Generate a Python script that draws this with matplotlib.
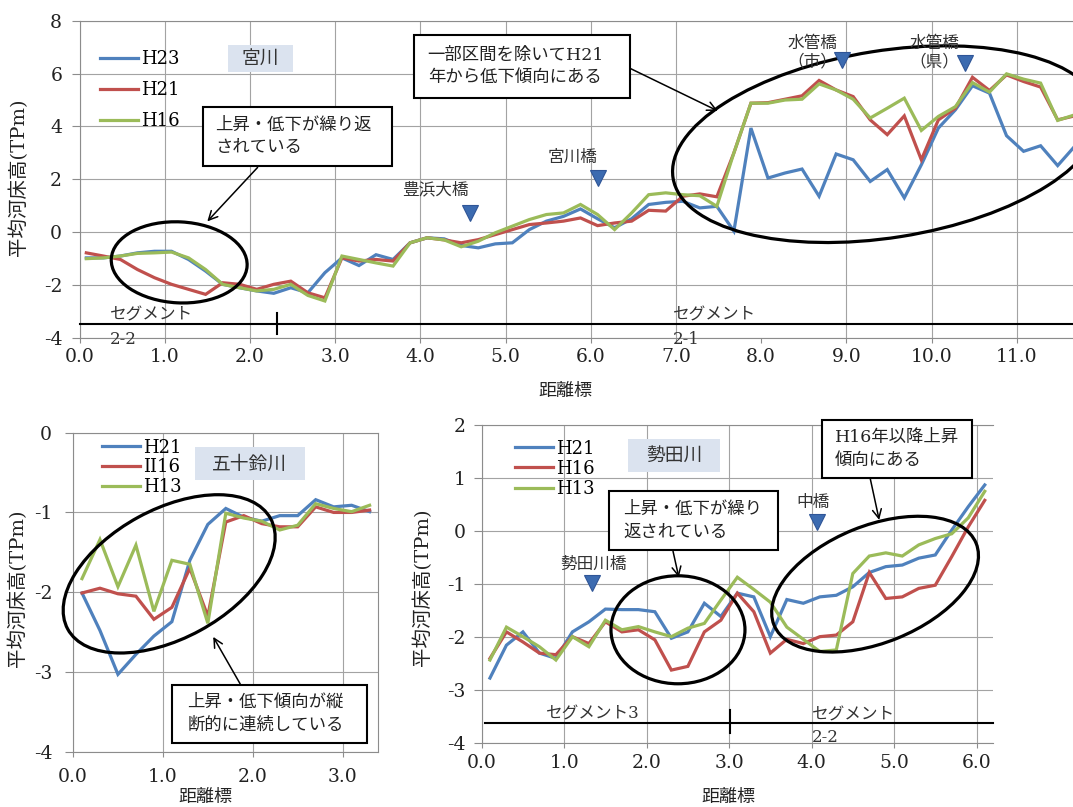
import matplotlib
matplotlib.use('Agg')
import matplotlib.pyplot as plt
import matplotlib.transforms as mtrans
from matplotlib.patches import Ellipse, Rectangle

# 宮川 (H23 / H21 / H16)
miya_km = [0.08, 0.28, 0.48, 0.68, 0.88, 1.08, 1.28, 1.48, 1.68, 1.88,
           2.08, 2.28, 2.48, 2.68, 2.88, 3.08, 3.28, 3.48, 3.68, 3.88,
           4.08, 4.28, 4.48, 4.68, 4.88, 5.08, 5.28, 5.48, 5.68, 5.88,
           6.08, 6.28, 6.48, 6.68, 6.88, 7.08, 7.28, 7.48, 7.68, 7.88,
           8.08, 8.28, 8.48, 8.68, 8.88, 9.08, 9.28, 9.48, 9.68, 9.88,
           10.08, 10.28, 10.48, 10.68, 10.88, 11.08, 11.28, 11.48, 11.68]
miya_h23 = [-0.97, -0.97, -0.90, -0.78, -0.72, -0.72, -1.03, -1.47, -1.97, -2.10,
            -2.22, -2.31, -2.10, -2.29, -1.53, -0.97, -1.26, -0.85, -1.03, -0.40,
            -0.21, -0.25, -0.50, -0.59, -0.44, -0.40, 0.10, 0.42, 0.60, 0.88,
            0.51, 0.17, 0.51, 1.05, 1.13, 1.17, 0.92, 0.98, 0.04, 3.94,
            2.05, 2.24, 2.39, 1.36, 2.96, 2.74, 1.92, 2.37, 1.30, 2.55,
            3.94, 4.63, 5.54, 5.26, 3.65, 3.06, 3.27, 2.52, 3.25]
miya_h21 = [-0.78, -0.90, -1.03, -1.41, -1.72, -1.97, -2.16, -2.35, -1.91, -1.97,
            -2.16, -1.97, -1.85, -2.29, -2.48, -0.97, -1.09, -1.03, -1.09, -0.40,
            -0.21, -0.29, -0.40, -0.28, -0.09, 0.10, 0.29, 0.35, 0.42, 0.54,
            0.25, 0.35, 0.42, 0.83, 0.80, 1.36, 1.45, 1.34, 3.00, 4.88,
            4.90, 5.03, 5.16, 5.74, 5.38, 5.13, 4.25, 3.69, 4.40, 2.74,
            4.25, 4.69, 5.86, 5.36, 5.95, 5.70, 5.49, 4.25, 4.40]
miya_h16 = [-1.00, -0.97, -0.90, -0.80, -0.78, -0.75, -0.97, -1.41, -1.97, -2.10,
            -2.22, -2.16, -1.97, -2.39, -2.60, -0.90, -1.03, -1.16, -1.28, -0.40,
            -0.21, -0.29, -0.55, -0.34, -0.02, 0.23, 0.48, 0.67, 0.73, 1.05,
            0.67, 0.10, 0.73, 1.42, 1.49, 1.42, 1.38, 0.98, 3.00, 4.88,
            4.88, 5.00, 5.03, 5.61, 5.38, 5.03, 4.32, 4.69, 5.07, 3.85,
            4.38, 4.75, 5.66, 5.30, 5.99, 5.79, 5.64, 4.23, 4.44]

# 五十鈴川 (H21 / H16 / H13)
isuzu_km = [0.1, 0.3, 0.5, 0.7, 0.9, 1.1, 1.3, 1.5, 1.7, 1.9, 2.1, 2.3, 2.5, 2.7, 2.9, 3.1, 3.3]
isuzu_h21 = [-2.01, -2.48, -3.03, -2.78, -2.55, -2.37, -1.60, -1.15, -0.95, -1.06,
             -1.11, -1.04, -1.04, -0.84, -0.93, -0.91, -0.99]
isuzu_h16 = [-2.01, -1.95, -2.02, -2.05, -2.34, -2.19, -1.70, -2.30, -1.12, -1.04,
             -1.14, -1.18, -1.18, -0.93, -1.00, -1.00, -0.97]
isuzu_h13 = [-1.83, -1.34, -1.93, -1.41, -2.24, -1.60, -1.65, -2.39, -1.01, -1.07,
             -1.11, -1.22, -1.16, -0.89, -0.95, -0.99, -0.91]

# 勢田川 (H21 / H16 / H13)
seta_km = [0.1, 0.3, 0.5, 0.7, 0.9, 1.1, 1.3, 1.5, 1.7, 1.9, 2.1, 2.3, 2.5, 2.7, 2.9, 3.1,
           3.3, 3.5, 3.7, 3.9, 4.1, 4.3, 4.5, 4.7, 4.9, 5.1, 5.3, 5.5, 5.7, 5.9, 6.1]
seta_h21 = [-2.77, -2.15, -1.90, -2.30, -2.40, -1.90, -1.71, -1.47, -1.48, -1.48,
            -1.52, -2.02, -1.90, -1.36, -1.61, -1.17, -1.24, -1.99, -1.29, -1.36,
            -1.24, -1.21, -1.05, -0.78, -0.67, -0.64, -0.51, -0.45, 0.02, 0.46, 0.87]
seta_h16 = [-2.40, -1.90, -2.09, -2.30, -2.33, -1.99, -2.12, -1.71, -1.90, -1.86,
            -2.05, -2.62, -2.55, -1.90, -1.68, -1.17, -1.52, -2.30, -2.04, -2.12,
            -1.99, -1.96, -1.71, -0.78, -1.27, -1.24, -1.08, -1.02, -0.48, 0.08, 0.58]
seta_h13 = [-2.43, -1.81, -1.99, -2.18, -2.43, -1.99, -2.18, -1.68, -1.86, -1.80,
            -1.90, -1.99, -1.83, -1.74, -1.30, -0.87, -1.10, -1.34, -1.81, -2.04,
            -2.27, -2.24, -0.80, -0.47, -0.41, -0.47, -0.26, -0.14, -0.05, 0.25, 0.75]

plt.rcParams['font.family'] = ['DejaVu Serif', 'Noto Sans CJK JP']
plt.rcParams['axes.unicode_minus'] = False

BLUE = '#4F81BD'
RED = '#C0504D'
GREEN = '#9BBB59'
GRID = '#a3a3a3'
MARK = '#3C6BB0'

fig = plt.figure(figsize=(10.73, 8.07), dpi=100)


def px_trans(ax, x, y):
    # pixel-sized shapes anchored on a data point
    return (mtrans.Affine2D().scale(0.01) + fig.dpi_scale_trans
            + mtrans.ScaledTranslation(x, y, ax.transData))


def setup(ax, xlim, ylim, xticks, yticks, ypad, xpad):
    ax.set_xlim(*xlim)
    ax.set_ylim(*ylim)
    ax.set_xticks(xticks)
    ax.set_xticklabels(['%.1f' % t for t in xticks])
    ax.set_yticks(yticks)
    ax.set_yticklabels(['%d' % t for t in yticks])
    ax.grid(color=GRID, lw=0.8)
    ax.set_axisbelow(True)
    ax.tick_params(axis='y', direction='out', length=6, width=0.8, color='#8c8c8c',
                   labelsize=13.5, pad=ypad, labelcolor='#222222')
    ax.tick_params(axis='x', direction='out', length=3.5, width=0.8, color='#8c8c8c',
                   labelsize=13.5, pad=xpad, labelcolor='#222222')
    for s in ax.spines.values():
        s.set_color('#8c8c8c')
        s.set_linewidth(0.8)


def series(ax, km, vals, labels, anchor, spacing):
    for v, c, lab in zip(vals, [BLUE, RED, GREEN], labels):
        ax.plot(km, v, color=c, lw=2.3, label=lab, solid_joinstyle='miter')
    ax.legend(loc='upper left', bbox_to_anchor=anchor, frameon=False, borderpad=0,
              borderaxespad=0, handlelength=2.1, handletextpad=0.2,
              labelspacing=spacing, prop={'family': 'DejaVu Serif', 'size': 13})


def ring(ax, x, y, w, h, angle=0):
    ax.add_patch(Ellipse((0, 0), w, h, angle=angle, transform=px_trans(ax, x, y),
                         fill=False, ec='black', lw=2.3, clip_on=False, zorder=5))


def tag(ax, x, y, w, h, text):
    ax.add_patch(Rectangle((-w / 2, -h / 2), w, h, transform=px_trans(ax, x, y),
                           fc='#dbe3ef', ec='none', clip_on=False, zorder=4))
    ax.text(x, y, text, ha='center', va='center', fontsize=13.5, color='#333333',
            family=['Noto Sans CJK JP'], zorder=6)


def callout(ax, x, y, w, h, text, inset):
    ax.add_patch(Rectangle((-w / 2, -h / 2), w, h, transform=px_trans(ax, x, y),
                           fc='white', ec='black', lw=1.5, clip_on=False, zorder=6))
    ax.annotate(text, xy=(x, y), xytext=((inset - w / 2) * 0.72, 0),
                textcoords='offset points', ha='left', va='center', fontsize=12.5,
                linespacing=1.45, color='#222222', zorder=7, annotation_clip=False)


def arrow(ax, start, end):
    ax.annotate('', xy=end, xytext=start,
                arrowprops=dict(arrowstyle='->', lw=1.1, color='black', mutation_scale=16,
                                shrinkA=0, shrinkB=0), annotation_clip=False, zorder=6)


def bridge(ax, x, y, name, lx, ly):
    ax.plot([x], [y], marker='v', ms=12, color=MARK, mec='#2F5597', mew=0.8, zorder=5)
    ax.text(lx, ly, name, ha='center', va='center', fontsize=12, color='#333333',
            linespacing=1.1, zorder=5)


def segment(ax, x0, x1, y, split, tick):
    ax.plot([x0, x1], [y, y], color='black', lw=1.5, clip_on=False, zorder=3)
    ax.plot([split, split], tick, color='black', lw=1.5, clip_on=False, zorder=3)


# ---- 宮川 ----
ax1 = fig.add_axes([79.5 / 1073, 1 - 338 / 807, 993.5 / 1073, 317.3 / 807])
setup(ax1, (0, 11.66), (-4, 8), [0, 1, 2, 3, 4, 5, 6, 7, 8, 9, 10, 11],
      [-4, -2, 0, 2, 4, 6, 8], ypad=6.5, xpad=4)
ax1.spines['right'].set_visible(False)
ax1.get_xgridlines()[8].set_visible(False)
series(ax1, miya_km, [miya_h23, miya_h21, miya_h16], ['H23', 'H21', 'H16'],
       (0.0206, 0.907), 0.72)
tag(ax1, 2.124, 6.57, 65, 27, '宮川')
ring(ax1, 1.17, -1.14, 136, 81, -3)
ring(ax1, 9.47, 3.33, 432, 187, 9)
callout(ax1, 2.56, 3.63, 189, 59, '上昇・低下が繰り返\nされている', 12)
arrow(ax1, (2.09, 2.45), (1.50, 0.41))
callout(ax1, 5.19, 6.27, 216, 63, '一部区間を除いてH21\n年から低下傾向にある', 14)
arrow(ax1, (6.46, 6.20), (7.49, 4.59))
bridge(ax1, 4.58, 0.74, '豊浜大橋', 4.18, 1.61)
bridge(ax1, 6.09, 2.06, '宮川橋', 5.79, 2.82)
bridge(ax1, 8.95, 6.52, '水管橋\n（市）', 8.60, 6.78)
bridge(ax1, 10.39, 6.40, '水管橋\n（県）', 10.03, 6.78)
segment(ax1, 0, 11.66, -3.48, 2.32, (-3.05, -3.85))
ax1.text(0.84, -3.12, 'セグメント', ha='center', va='center', fontsize=12, color='#333333')
ax1.text(0.36, -4.05, '2-2', ha='left', va='center', fontsize=12, color='#333333')
ax1.text(6.96, -3.12, 'セグメント', ha='left', va='center', fontsize=12, color='#333333')
ax1.text(6.96, -4.05, '2-1', ha='left', va='center', fontsize=12, color='#333333')
fig.text(18 / 1073, 1 - 177 / 807, '平均河床高(TPm)', rotation=90, ha='center',
         va='center', fontsize=14, color='#222222')
fig.text(565 / 1073, 1 - 391 / 807, '距離標', ha='center', va='center', fontsize=13,
         color='#222222')

# ---- 五十鈴川 ----
ax2 = fig.add_axes([73 / 1073, 1 - 751.7 / 807, 304.7 / 1073, 319 / 807])
setup(ax2, (0, 3.39), (-4, 0), [0, 1, 2, 3], [-4, -3, -2, -1, 0], ypad=9, xpad=8.5)
series(ax2, isuzu_km, [isuzu_h21, isuzu_h16, isuzu_h13], ['H21', 'II16', 'H13'],
       (0.095, 0.9815), 0.1)
tag(ax2, 1.967, -0.392, 110, 33, '五十鈴川')
ring(ax2, 1.07, -1.77, 231, 129, 28.6)
callout(ax2, 2.19, -3.53, 195, 58, '上昇・低下傾向が縦\n断的に連続している', 15)
arrow(ax2, (1.86, -3.15), (1.56, -2.56))
fig.text(17 / 1073, 1 - 588 / 807, '平均河床高(TPm)', rotation=90, ha='center',
         va='center', fontsize=14, color='#222222')
fig.text(205 / 1073, 1 - 797 / 807, '距離標', ha='center', va='center', fontsize=13,
         color='#222222')

# ---- 勢田川 ----
ax3 = fig.add_axes([481.7 / 1073, 1 - 743.3 / 807, 511.3 / 1073, 318.3 / 807])
setup(ax3, (0, 6.2), (-4, 2), [0, 1, 2, 3, 4, 5, 6], [-4, -3, -2, -1, 0, 1, 2],
      ypad=5.5, xpad=4.3)
ax3.spines['right'].set_visible(False)
series(ax3, seta_km, [seta_h21, seta_h16, seta_h13], ['H21', 'H16', 'H13'],
       (0.065, 0.954), 0.12)
tag(ax3, 2.33, 1.434, 92, 33, '勢田川')
ring(ax3, 2.38, -1.86, 134, 108, 0)
ring(ax3, 4.77, -1.0, 218, 117, 22)
callout(ax3, 2.567, 0.2, 169, 59, '上昇・低下が繰り\n返されている', 14)
arrow(ax3, (2.32, -0.38), (2.39, -0.87))
callout(ax3, 5.034, 1.548, 150, 58, 'H16年以降上昇\n傾向にある', 13)
arrow(ax3, (4.71, 1.0), (4.82, 0.21))
bridge(ax3, 1.34, -0.98, '勢田川橋', 1.36, -0.62)
bridge(ax3, 4.06, 0.17, '中橋', 4.02, 0.53)
segment(ax3, 0.04, 6.2, -3.62, 3.01, (-3.37, -3.81))
ax3.text(1.35, -3.45, 'セグメント3', ha='center', va='center', fontsize=12, color='#333333')
ax3.text(4.0, -3.47, 'セグメント', ha='left', va='center', fontsize=12, color='#333333')
ax3.text(4.0, -3.9, '2-2', ha='left', va='center', fontsize=12, color='#333333')
fig.text(422 / 1073, 1 - 587 / 807, '平均河床高(TPm)', rotation=90, ha='center',
         va='center', fontsize=14, color='#222222')
fig.text(728 / 1073, 1 - 797 / 807, '距離標', ha='center', va='center', fontsize=13,
         color='#222222')

fig.savefig('out.png', dpi=100)
